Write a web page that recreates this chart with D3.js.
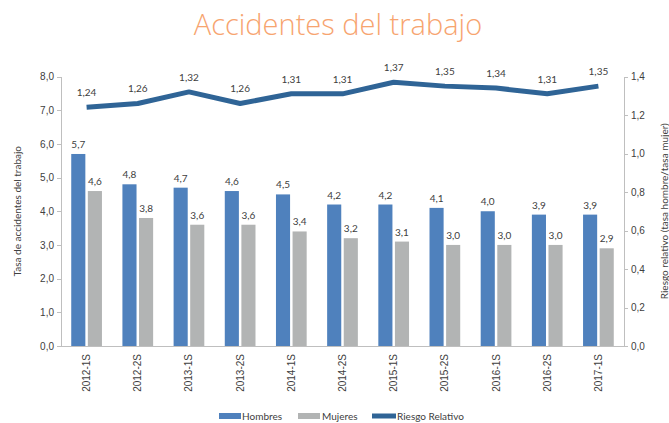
<!DOCTYPE html>
<html lang="es">
<head>
  <meta charset="UTF-8">
  <title>Accidentes del trabajo</title>
  <script src="https://d3js.org/d3.v7.min.js"></script>
  <style>
    body { margin: 0; background: #fff; font-family: Lato, "Open Sans", sans-serif; }
    .axis path, .axis line { stroke: #bfbfbf; shape-rendering: crispEdges; }
    .axis text { fill: #404040; font-size: 10px; }
    .lbl { fill: #404040; font-size: 10px; text-anchor: middle; }
  </style>
</head>
<body>
  <svg width="669" height="423"></svg>
  <script>
    const periods = ["2012-1S", "2012-2S", "2013-1S", "2013-2S", "2014-1S", "2014-2S",
                     "2015-1S", "2015-2S", "2016-1S", "2016-2S", "2017-1S"];
    const hombres = [5.7, 4.8, 4.7, 4.6, 4.5, 4.2, 4.2, 4.1, 4.0, 3.9, 3.9];
    const mujeres = [4.6, 3.8, 3.6, 3.6, 3.4, 3.2, 3.1, 3.0, 3.0, 3.0, 2.9];
    const riesgo = [1.24, 1.26, 1.32, 1.26, 1.31, 1.31, 1.37, 1.35, 1.34, 1.31, 1.35];
    const leftTicks = [0, 1, 2, 3, 4, 5, 6, 7, 8];
    const rightTicks = [0, 0.2, 0.4, 0.6, 0.8, 1.0, 1.2, 1.4];

    const svg = d3.select("svg");
    const pLeft = 61, pRight = 624, pTop = 76.5, pBottom = 346;
    const colH = "#4f81bd", colM = "#b2b4b4", colR = "#2f6496";
    const fmt1 = d3.format(".1f"), fmt2 = d3.format(".2f");
    const comma = s => s.replace(".", ",");

    const x = d3.scaleBand().domain(periods).range([pLeft, pRight])
      .paddingInner(0.4).paddingOuter(0.2);
    const x1 = d3.scaleBand().domain(["h", "m"]).range([0, x.bandwidth()])
      .paddingInner(0.15);
    const y = d3.scaleLinear().domain([0, 8]).range([pBottom, pTop]);
    const y2 = d3.scaleLinear().domain([0, 1.4]).range([pBottom, pTop]);

    // title
    svg.append("text")
      .attr("x", 338).attr("y", 35)
      .attr("text-anchor", "middle")
      .style("font-family", "'Open Sans', sans-serif")
      .style("font-weight", 300)
      .style("font-size", "29px")
      .style("fill", "#f7a46f")
      .text("Accidentes del trabajo");

    // axes
    svg.append("g").attr("class", "axis")
      .attr("transform", `translate(${pLeft},0)`)
      .call(d3.axisLeft(y).tickValues(leftTicks).tickSize(4).tickSizeOuter(4)
        .tickFormat(d => comma(fmt1(d))));

    svg.append("g").attr("class", "axis")
      .attr("transform", `translate(${pRight},0)`)
      .call(d3.axisRight(y2).tickValues(rightTicks).tickSize(4).tickSizeOuter(4)
        .tickFormat(d => comma(fmt1(d))));

    const xa = svg.append("g").attr("class", "axis")
      .attr("transform", `translate(0,${pBottom})`)
      .call(d3.axisBottom(x).tickSize(0).tickSizeOuter(0));
    xa.selectAll("text")
      .attr("transform", "rotate(-90)")
      .attr("text-anchor", "end")
      .attr("x", -8).attr("y", 0).attr("dy", "0.35em");

    // bars
    const g = svg.append("g");
    g.selectAll(".bh").data(periods).join("rect")
      .attr("x", d => x(d) + x1("h"))
      .attr("width", x1.bandwidth())
      .attr("y", (d, i) => y(hombres[i]))
      .attr("height", (d, i) => pBottom - y(hombres[i]))
      .attr("fill", colH);
    g.selectAll(".bm").data(periods).join("rect")
      .attr("x", d => x(d) + x1("m"))
      .attr("width", x1.bandwidth())
      .attr("y", (d, i) => y(mujeres[i]))
      .attr("height", (d, i) => pBottom - y(mujeres[i]))
      .attr("fill", colM);

    g.selectAll(".lh").data(periods).join("text").attr("class", "lbl")
      .attr("x", d => x(d) + x1("h") + x1.bandwidth() / 2)
      .attr("y", (d, i) => y(hombres[i]) - 6)
      .text((d, i) => comma(fmt1(hombres[i])));
    g.selectAll(".lm").data(periods).join("text").attr("class", "lbl")
      .attr("x", d => x(d) + x1("m") + x1.bandwidth() / 2)
      .attr("y", (d, i) => y(mujeres[i]) - 6)
      .text((d, i) => comma(fmt1(mujeres[i])));

    // riesgo relativo line
    const cx = d => x(d) + x.bandwidth() / 2;
    svg.append("path")
      .attr("d", d3.line()(periods.map((p, i) => [cx(p), y2(riesgo[i])])))
      .attr("fill", "none").attr("stroke", colR).attr("stroke-width", 5)
      .attr("stroke-linejoin", "round");
    svg.selectAll(".lr").data(periods).join("text").attr("class", "lbl")
      .attr("x", cx)
      .attr("y", (d, i) => y2(riesgo[i]) - 11)
      .text((d, i) => comma(fmt2(riesgo[i])));

    // axis titles
    svg.append("text")
      .attr("transform", `translate(21,${(pTop + pBottom) / 2}) rotate(-90)`)
      .attr("text-anchor", "middle")
      .style("font-size", "10px").style("fill", "#404040")
      .text("Tasa de accidentes del trabajo");
    svg.append("text")
      .attr("transform", `translate(668,${(pTop + pBottom) / 2}) rotate(-90)`)
      .attr("text-anchor", "middle")
      .style("font-size", "10px").style("fill", "#404040")
      .text("Riesgo relativo (tasa hombre/tasa mujer)");

    // legend
    const leg = svg.append("g").style("font-size", "10px").style("fill", "#404040");
    leg.append("rect").attr("x", 219).attr("y", 413).attr("width", 22).attr("height", 6).attr("fill", colH);
    leg.append("text").attr("x", 242).attr("y", 420).text("Hombres");
    leg.append("rect").attr("x", 298).attr("y", 413).attr("width", 22).attr("height", 6).attr("fill", colM);
    leg.append("text").attr("x", 322).attr("y", 420).text("Mujeres");
    leg.append("line").attr("x1", 372).attr("x2", 396).attr("y1", 416).attr("y2", 416)
      .attr("stroke", colR).attr("stroke-width", 5);
    leg.append("text").attr("x", 397).attr("y", 420).text("Riesgo Relativo");
  </script>
</body>
</html>
